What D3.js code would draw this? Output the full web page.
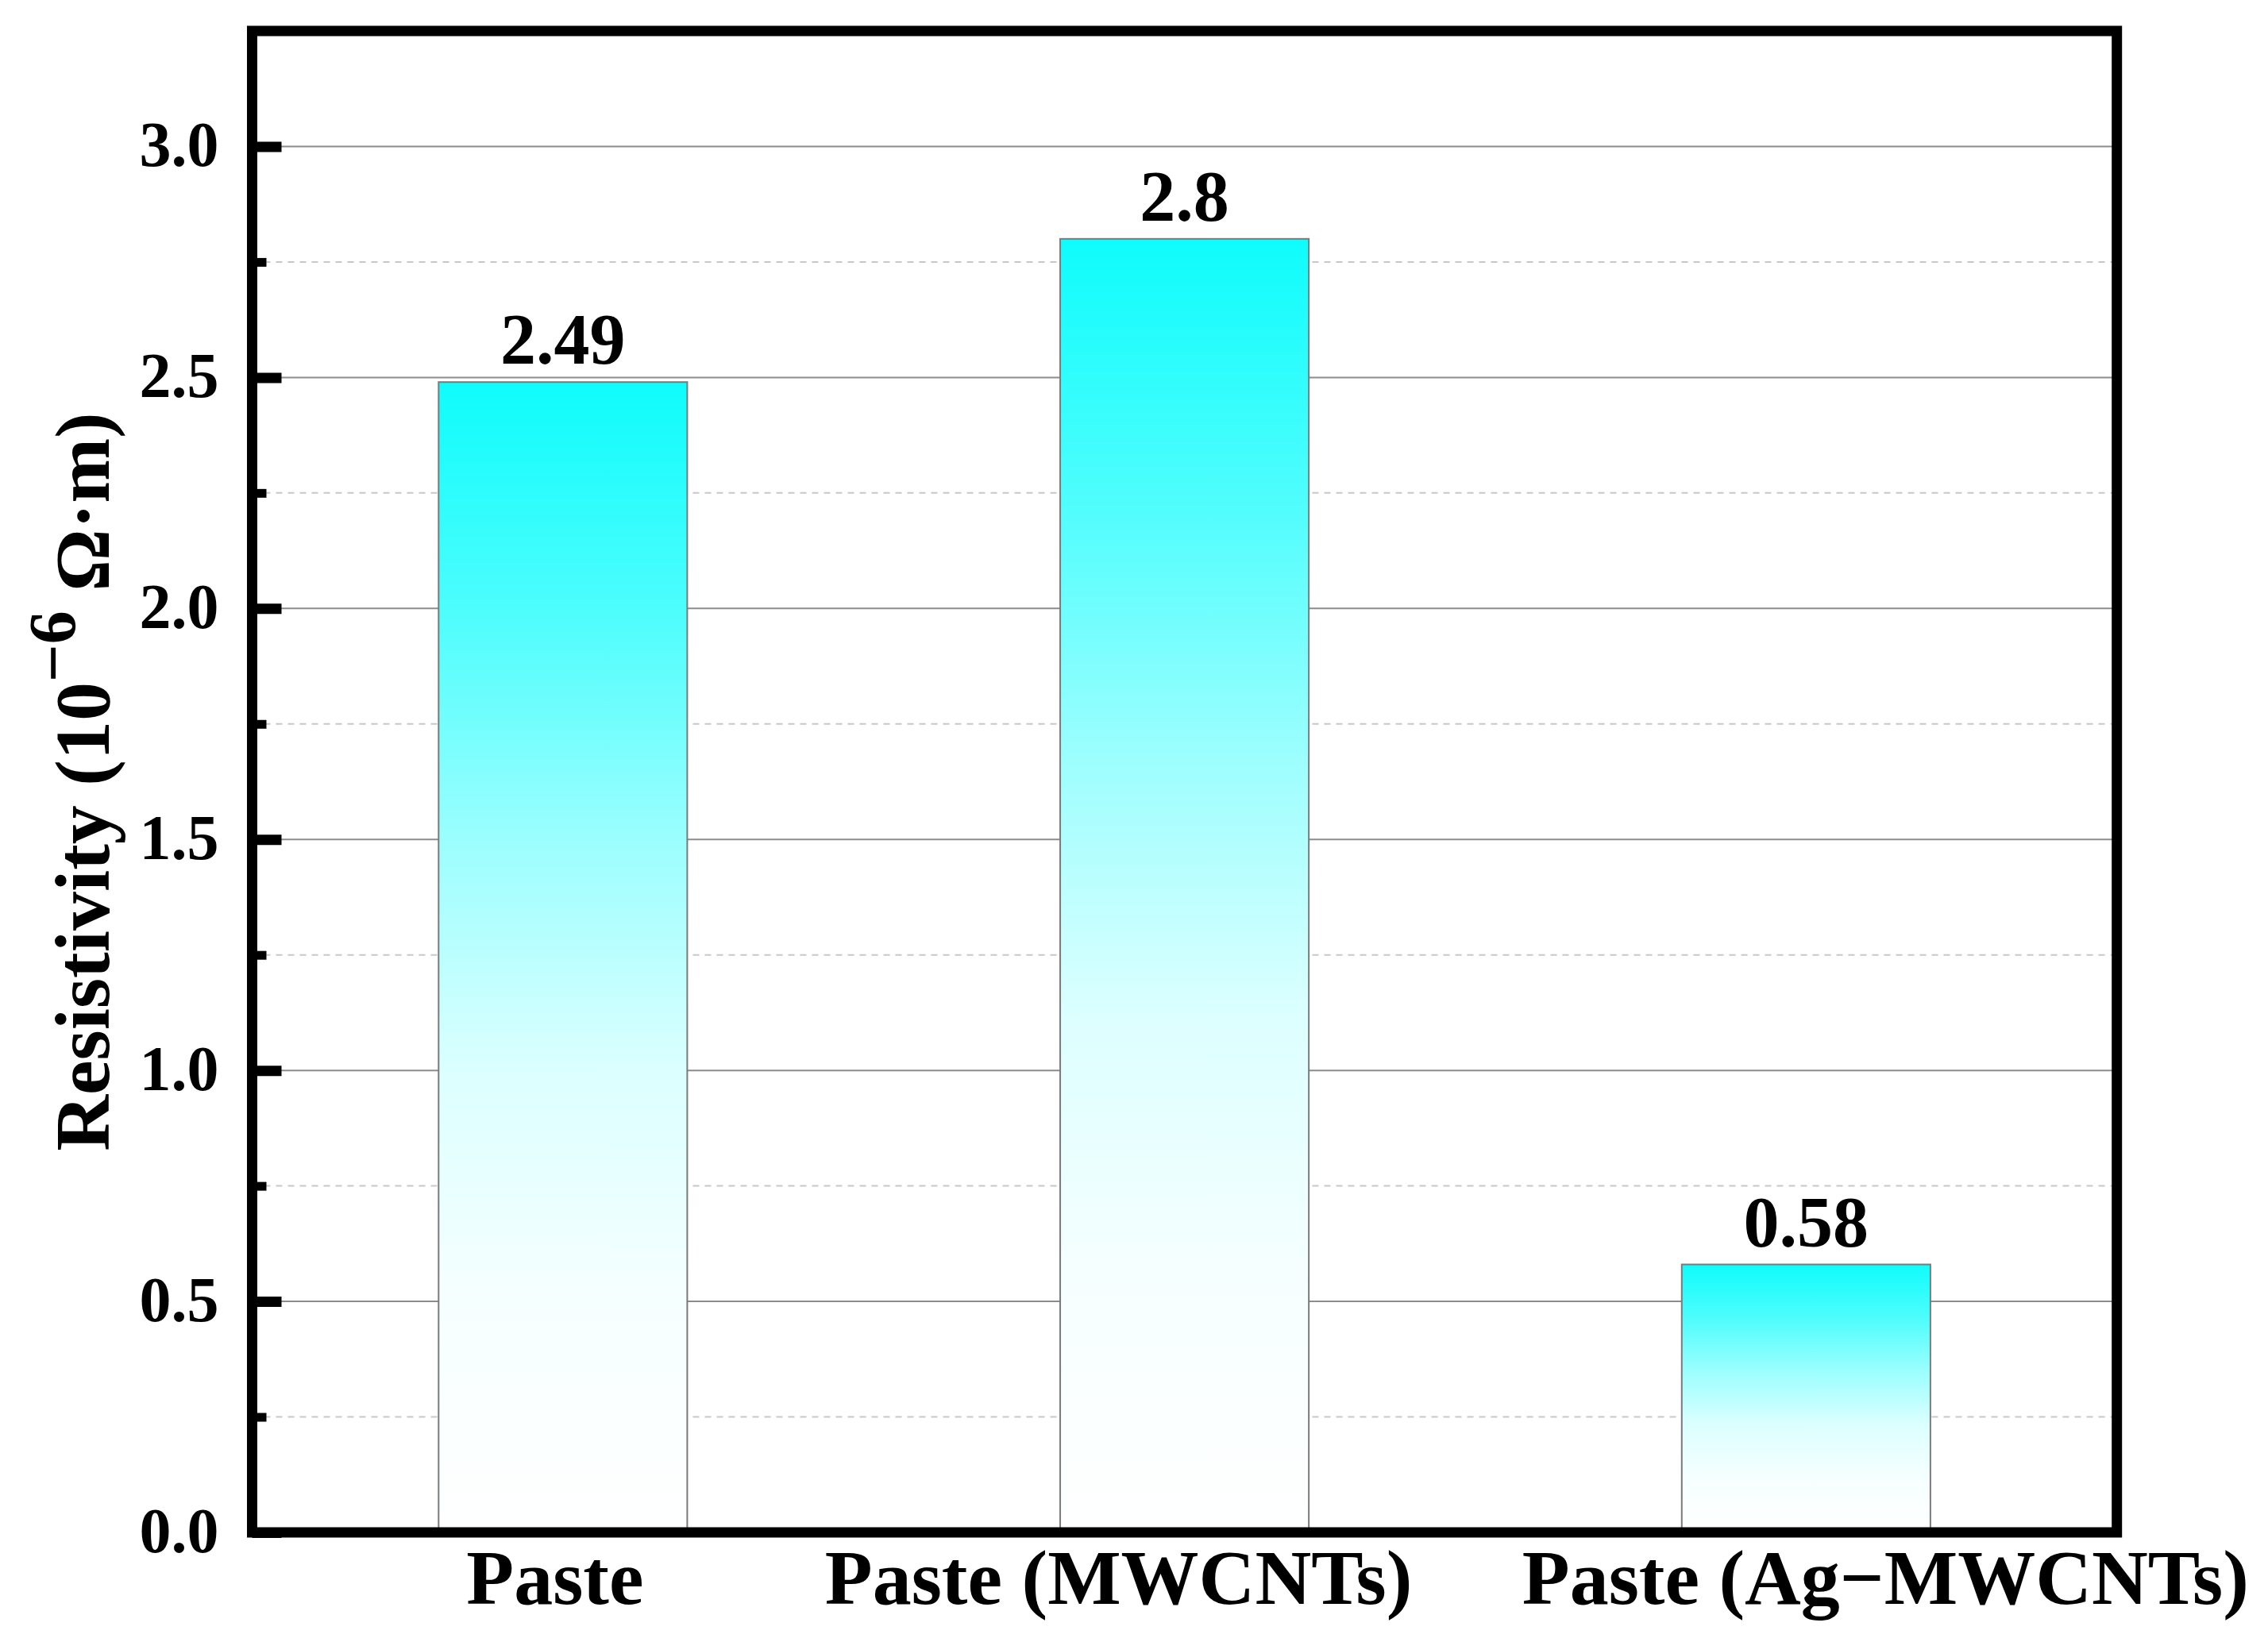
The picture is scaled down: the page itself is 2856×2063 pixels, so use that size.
<!DOCTYPE html>
<html>
<head>
<meta charset="utf-8">
<script src="https://cdn.jsdelivr.net/npm/d3@7"></script>
<style>
  html, body { margin: 0; padding: 0; background: #fff; }
  svg { display: block; }
  text { font-family: "Liberation Serif", "Times New Roman", serif; font-weight: bold; fill: #000; }
</style>
</head>
<body>
<svg id="chart" width="2856" height="2063"></svg>
<script>
// ---- data ----
const categories = ["Paste", "Paste (MWCNTs)", "Paste (Ag\u2212MWCNTs)"];
const resistivity = [2.49, 2.8, 0.58];
const valueLabels = ["2.49", "2.8", "0.58"];
const majorTicks = [0.0, 0.5, 1.0, 1.5, 2.0, 2.5, 3.0];
const minorTicks = [0.25, 0.75, 1.25, 1.75, 2.25, 2.75];
const yDomain = [0, 3.25];

// ---- layout ----
const plotLeft = 317.5, plotRight = 2665.7, plotTop = 39, plotBottom = 1930;
const labelShift = [-10, -83, 100]; // category label horizontal nudges

const svg = d3.select("#chart");

const x = d3.scaleBand().domain(categories).range([plotLeft, plotRight])
  .paddingInner(0.6).paddingOuter(0.3);
const y = d3.scaleLinear().domain(yDomain).range([plotBottom, plotTop]);

// gradient (cyan at top fading to white)
const defs = svg.append("defs");
const grad = defs.append("linearGradient").attr("id", "barGrad")
  .attr("x1", 0).attr("y1", 0).attr("x2", 0).attr("y2", 1);
[["0%", "#0ffcfc"], ["20%", "#4efdfd"], ["40%", "#9cfefe"], ["60%", "#dcffff"],
 ["80%", "#f6ffff"], ["100%", "#ffffff"]].forEach(([o, c]) =>
  grad.append("stop").attr("offset", o).attr("stop-color", c));

// minor gridlines (dashed)
svg.append("g").selectAll("line").data(minorTicks).join("line")
  .attr("x1", plotLeft).attr("x2", plotRight)
  .attr("y1", d => y(d)).attr("y2", d => y(d))
  .attr("stroke", "#c8c8c8").attr("stroke-width", 2)
  .attr("stroke-dasharray", "8,7");

// major gridlines (solid)
svg.append("g").selectAll("line").data(majorTicks.filter(d => d > 0)).join("line")
  .attr("x1", plotLeft).attr("x2", plotRight)
  .attr("y1", d => y(d)).attr("y2", d => y(d))
  .attr("stroke", "#8c8c8c").attr("stroke-width", 2);

// bars
svg.append("g").selectAll("rect").data(categories).join("rect")
  .attr("x", d => x(d))
  .attr("width", x.bandwidth())
  .attr("y", (d, i) => y(resistivity[i]))
  .attr("height", (d, i) => y(0) - y(resistivity[i]))
  .attr("fill", "url(#barGrad)")
  .attr("stroke", "#7a7a7a").attr("stroke-width", 2);

// value labels
svg.append("g").selectAll("text").data(categories).join("text")
  .attr("x", d => x(d) + x.bandwidth() / 2)
  .attr("y", (d, i) => y(resistivity[i]) - 23)
  .attr("text-anchor", "middle")
  .attr("font-size", 90)
  .text((d, i) => valueLabels[i]);

// y axis: major ticks with labels
const yAxis = d3.axisLeft(y).tickValues(majorTicks)
  .tickSizeInner(-37).tickSizeOuter(0).tickPadding(42)
  .tickFormat(d3.format(".1f"));
const gY = svg.append("g").attr("transform", `translate(${plotLeft},0)`).call(yAxis);
gY.select(".domain").remove();
gY.selectAll(".tick line").attr("stroke", "#000").attr("stroke-width", 13);
gY.selectAll(".tick text")
  .attr("font-size", 80)
  .attr("font-family", "Liberation Serif, Times New Roman, serif")
  .attr("font-weight", "bold")
  .attr("fill", "#000")
  .attr("dy", "0.30em");

// y axis: minor ticks
const yMinor = d3.axisLeft(y).tickValues(minorTicks)
  .tickSizeInner(-18).tickSizeOuter(0).tickFormat("");
const gYm = svg.append("g").attr("transform", `translate(${plotLeft},0)`).call(yMinor);
gYm.select(".domain").remove();
gYm.selectAll(".tick line").attr("stroke", "#000").attr("stroke-width", 11);

// frame
svg.append("rect")
  .attr("x", plotLeft).attr("y", plotTop)
  .attr("width", plotRight - plotLeft).attr("height", plotBottom - plotTop)
  .attr("fill", "none").attr("stroke", "#000").attr("stroke-width", 13);

// category labels
svg.append("g").selectAll("text").data(categories).join("text")
  .attr("x", (d, i) => x(d) + x.bandwidth() / 2 + labelShift[i])
  .attr("y", 2020)
  .attr("text-anchor", "middle")
  .attr("font-size", 98)
  .text(d => d);

// y axis title
const title = svg.append("text")
  .attr("transform", `translate(137,${(plotTop + plotBottom) / 2}) rotate(-90)`)
  .attr("text-anchor", "middle")
  .attr("font-size", 98);
title.append("tspan").text("Resistivity (10");
title.append("tspan").attr("dy", -42).attr("font-size", 84).text("\u22126");
title.append("tspan").attr("dy", 42).text(" \u03A9\u00B7m)");
</script>
</body>
</html>
